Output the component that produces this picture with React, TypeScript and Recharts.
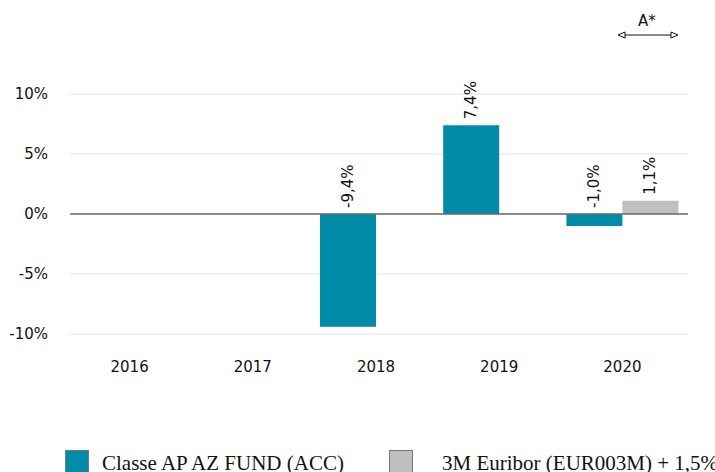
import React from 'react';
import { BarChart, Bar, XAxis, YAxis, CartesianGrid, ReferenceLine, LabelList } from 'recharts';

const years = ['2016', '2017', '2018', '2019', '2020'];
const fundValues = [null, null, -9.4, 7.4, -1.0];
const benchmarkValues = [null, null, null, null, 1.1];
const yTicks = [-10, -5, 0, 5, 10];

const fundName = 'Classe AP AZ FUND (ACC)';
const benchmarkName = '3M Euribor (EUR003M) + 1,5%';

const data = years.map((year, i) => ({
  year,
  fund: fundValues[i],
  bench: benchmarkValues[i],
}));

const FONT = 'DejaVu Sans';
const fmt = (v: number) => `${v.toFixed(1).replace('.', ',')}%`;

const RotatedLabel = (props: any) => {
  const { x, y, width, height, value } = props;
  if (value === null || value === undefined) return null;
  const cx = x + width / 2;
  const base = Math.min(y, y + height) - 6;
  return (
    <text
      x={cx}
      y={base}
      transform={`rotate(-90, ${cx}, ${base})`}
      textAnchor="start"
      dominantBaseline="central"
      fontSize={15}
      fill="#111"
      fontFamily={FONT}
    >
      {fmt(value)}
    </text>
  );
};

const LegendItem = ({ color, label, left, textLeft }: { color: string; label: string; left: number; textLeft: number }) => (
  <>
    <div
      style={{
        position: 'absolute',
        left,
        top: 450,
        width: 24,
        height: 24,
        background: color,
        border: '1px solid #777',
        boxSizing: 'border-box',
      }}
    />
    <span
      style={{
        position: 'absolute',
        left: textLeft,
        top: 451,
        whiteSpace: 'nowrap',
        fontFamily: 'Liberation Serif',
        fontSize: 21,
        lineHeight: '24px',
        color: '#111',
      }}
    >
      {label}
    </span>
  </>
);

const App: React.FC = () => {
  return (
    <div style={{ position: 'absolute', left: 0, top: 0, width: 715, height: 472, overflow: 'hidden', background: '#fff' }}>
      <BarChart
        width={715}
        height={472}
        data={data}
        margin={{ top: 94, right: 27, left: 0, bottom: 88 }}
        barCategoryGap={5.6}
        barGap={0}
        style={{ fontFamily: FONT }}
      >
        <CartesianGrid vertical={false} stroke="#e2e2e2" />
        <XAxis
          dataKey="year"
          axisLine={false}
          tickLine={false}
          tickSize={0}
          tickMargin={27}
          height={50}
          padding={{ left: -2, right: 4 }}
          tick={{ fill: '#111', fontSize: 15, fontFamily: FONT }}
        />
        <YAxis
          domain={[-10, 10]}
          ticks={yTicks}
          width={70}
          axisLine={false}
          tickLine={false}
          tickSize={0}
          tickMargin={22}
          tick={{ fill: '#111', fontSize: 15, fontFamily: FONT }}
          tickFormatter={(v: number) => `${v}%`}
        />
        <ReferenceLine y={0} stroke="#6a6a6a" strokeWidth={1.5} />
        <Bar dataKey="fund" fill="#008BA8" isAnimationActive={false}>
          <LabelList dataKey="fund" content={RotatedLabel} />
        </Bar>
        <Bar dataKey="bench" fill="#BFBFBF" isAnimationActive={false}>
          <LabelList dataKey="bench" content={RotatedLabel} />
        </Bar>
      </BarChart>
      <svg width={715} height={60} style={{ position: 'absolute', left: 0, top: 0 }}>
        <text x={647} y={26} textAnchor="middle" fontFamily={FONT} fontSize={15} fill="#111">
          A*
        </text>
        <line x1={624} y1={35} x2={672} y2={35} stroke="#111" strokeWidth={1} />
        <polygon points="618,35 625,32 625,38" fill="#fff" stroke="#111" strokeWidth={1} />
        <polygon points="678,35 671,32 671,38" fill="#fff" stroke="#111" strokeWidth={1} />
      </svg>
      <LegendItem color="#008BA8" label={fundName} left={65} textLeft={102} />
      <LegendItem color="#BFBFBF" label={benchmarkName} left={389} textLeft={442} />
    </div>
  );
};

export default App;
